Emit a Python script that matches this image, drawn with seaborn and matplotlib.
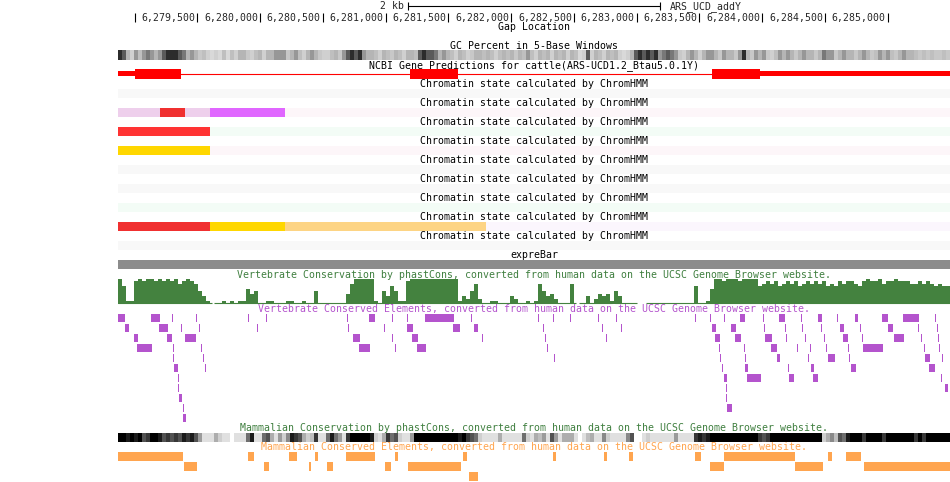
import numpy as np
import matplotlib
matplotlib.use("Agg")
import matplotlib.pyplot as plt
from matplotlib.colors import LinearSegmentedColormap
import seaborn as sns

# ---- browser window (cattle, chromosome ARS_UCD_addY) ----
chrom_name = "ARS_UCD_addY"
view_start = 6278868
view_end = 6285496
scale_bar_bp = 2000
ruler_ticks = list(range(6279000, 6285001, 500))

# ---- NCBI gene prediction ----
gene_span = (6278868, 6285496)
gene_utr = [(6278868, 6279003), (6283982, 6285496)]
gene_cds = [(6279003, 6279370), (6281194, 6281576), (6283600, 6283982)]

# ---- ChromHMM tracks (segment bounds + state per segment) ----
state_colors = {
    "TssA": "#ff3333", "TssFlnk": "#f03030", "EnhA": "#ffd700", "EnhWk": "#fdd484",
    "TssBiv": "#e066ff", "BivFlnk": "#eecfec", "Quies": "#f8f8f8",
    "TxWk": "#f3fcf6", "ReprPCWk": "#fdf6f9", "ZNF": "#fbf6fd",
}
chrom_bounds = [
    [view_start, view_end],
    [view_start, 6279200, 6279400, 6279600, 6280200, view_end],
    [view_start, 6279600, view_end],
    [view_start, 6279600, view_end],
    [view_start, view_end],
    [view_start, view_end],
    [view_start, view_end],
    [view_start, 6279600, 6280200, 6281800, view_end],
    [view_start, view_end],
]
chrom_states = [
    ["Quies"],
    ["BivFlnk", "TssFlnk", "BivFlnk", "TssBiv", "ReprPCWk"],
    ["TssA", "TxWk"],
    ["EnhA", "ReprPCWk"],
    ["Quies"],
    ["Quies"],
    ["TxWk"],
    ["TssFlnk", "EnhA", "EnhWk", "ZNF"],
    ["Quies"],
]

expre_bar = (view_start, view_end)

# ---- GC percent, 32 bp bins, darkness 0-10 ----
gc_dark = [
    9, 8, 5, 2, 6, 4, 6, 7, 6, 5, 6, 8, 9, 9, 9, 8, 7, 5, 6, 5,
    3, 4, 2, 1, 2, 1, 4, 1, 4, 2, 5, 5, 3, 2, 4, 5, 2, 5, 5, 6,
    6, 6, 3, 5, 6, 4, 2, 5, 6, 5, 3, 2, 2, 4, 5, 3, 6, 8, 9, 8,
    9, 6, 5, 5, 4, 2, 5, 4, 3, 5, 4, 2, 5, 5, 4, 8, 9, 8, 8, 7,
    5, 6, 5, 4, 2, 5, 4, 2, 3, 5, 5, 4, 5, 4, 2, 4, 5, 4, 5, 3,
    5, 4, 6, 4, 2, 5, 4, 5, 2, 5, 4, 5, 2, 5, 4, 1, 2, 8, 2, 5,
    4, 2, 5, 4, 5, 2, 1, 2, 5, 8, 9, 8, 9, 8, 9, 6, 7, 8, 7, 6,
    3, 2, 5, 6, 5, 2, 5, 6, 6, 5, 3, 6, 5, 5, 3, 6, 9, 5, 3, 6,
    5, 6, 3, 2, 4, 6, 5, 6, 5, 3, 5, 6, 5, 5, 3, 5, 7, 6, 6, 3,
    5, 6, 5, 5, 3, 5, 6, 5, 3, 4, 6, 5, 6, 4, 3, 5, 6, 5, 5, 4,
    3, 4, 3, 4, 3, 3, 4, 3,
]

# ---- vertebrate phastCons, 32 bp bins, score in tenths ----
vert_cons = [
    10, 7, 1, 1, 9, 10, 9, 10, 10, 9, 10, 9, 10, 9, 10, 8, 9, 10, 9, 8,
    5, 3, 1, 0, 0, 0, 1, 0, 1, 0, 1, 1, 6, 4, 5, 0, 0, 1, 1, 0,
    0, 0, 1, 1, 0, 0, 1, 0, 0, 5, 0, 0, 0, 0, 0, 0, 0, 4, 8, 10,
    10, 10, 10, 10, 1, 0, 5, 3, 7, 5, 1, 1, 9, 10, 10, 10, 10, 10, 10, 10,
    10, 10, 10, 10, 10, 1, 3, 2, 5, 8, 2, 0, 0, 1, 1, 0, 0, 0, 3, 2,
    0, 0, 1, 0, 1, 8, 5, 3, 4, 2, 0, 0, 0, 8, 0, 0, 0, 3, 0, 2,
    4, 3, 4, 1, 5, 3, 0, 0, 0, 0, 0, 0, 0, 0, 0, 0, 0, 0, 0, 0,
    0, 0, 0, 0, 7, 0, 0, 1, 6, 10, 10, 9, 10, 10, 10, 9, 10, 10, 10, 10,
    7, 8, 9, 8, 9, 7, 8, 9, 8, 9, 7, 8, 9, 8, 9, 8, 9, 7, 8, 7,
    9, 8, 9, 9, 8, 7, 9, 10, 9, 9, 10, 8, 9, 9, 10, 9, 9, 9, 8, 8,
    9, 8, 9, 8, 7, 8, 7, 7,
]
cons_gaps = [(6279617, 6279633), (6282516, 6282540), (6282803, 6282827), (6283002, 6283074)]

# ---- vertebrate conserved elements, one list per packed row ----
vert_elements = [
    [(6278868, 6278924), (6279131, 6279203), (6279298, 6279306), (6279489, 6279497),
     (6279904, 6279912), (6280047, 6280055), (6280692, 6280700), (6280868, 6280915),
     (6281051, 6281059), (6281170, 6281178), (6281314, 6281545), (6281680, 6281688),
     (6282214, 6282222), (6282333, 6282341), (6282469, 6282477), (6282692, 6282700),
     (6282835, 6282843), (6283464, 6283472), (6283584, 6283592), (6283695, 6283703),
     (6283823, 6283863), (6284006, 6284014), (6284133, 6284181), (6284309, 6284317),
     (6284444, 6284476), (6284596, 6284604), (6284739, 6284763), (6284954, 6285002),
     (6285121, 6285249), (6285376, 6285384)],
    [(6278924, 6278956), (6279195, 6279266), (6279370, 6279378), (6279513, 6279521),
     (6279975, 6279983), (6280700, 6280708), (6280987, 6280995), (6281170, 6281218),
     (6281537, 6281592), (6281704, 6281736), (6282254, 6282262), (6282724, 6282732),
     (6282875, 6282883), (6283600, 6283632), (6283751, 6283791), (6284014, 6284022),
     (6284181, 6284189), (6284317, 6284325), (6284468, 6284476), (6284619, 6284651),
     (6284779, 6284787), (6285002, 6285042), (6285241, 6285249), (6285392, 6285400)],
    [(6278995, 6279027), (6279258, 6279298), (6279402, 6279489), (6280740, 6280796),
     (6281051, 6281059), (6281210, 6281258), (6281768, 6281776), (6282270, 6282278),
     (6282755, 6282763), (6283624, 6283664), (6283783, 6283831), (6284022, 6284078),
     (6284189, 6284197), (6284341, 6284349), (6284492, 6284500), (6284643, 6284683),
     (6284795, 6284803), (6285050, 6285129), (6285265, 6285273), (6285400, 6285408)],
    [(6279019, 6279139), (6279306, 6279314), (6279529, 6279537), (6280788, 6280875),
     (6281075, 6281083), (6281250, 6281321), (6282285, 6282293), (6283656, 6283664),
     (6283855, 6283863), (6284070, 6284118), (6284277, 6284285), (6284380, 6284388),
     (6284508, 6284516), (6284683, 6284691), (6284803, 6284962), (6285289, 6285297),
     (6285408, 6285416)],
    [(6279306, 6279314), (6279545, 6279553), (6282341, 6282349), (6283664, 6283672),
     (6283863, 6283871), (6284118, 6284141), (6284364, 6284372), (6284524, 6284580),
     (6284691, 6284699), (6285297, 6285336), (6285432, 6285440)],
    [(6279314, 6279346), (6279561, 6279569), (6283679, 6283687), (6283863, 6283887),
     (6284205, 6284213), (6284388, 6284412), (6284707, 6284747), (6285328, 6285376)],
    [(6279346, 6279354), (6283695, 6283719), (6283879, 6283990), (6284213, 6284253),
     (6284404, 6284444), (6285424, 6285432)],
    [(6279346, 6279354), (6283711, 6283719), (6285456, 6285480)],
    [(6279354, 6279378), (6283711, 6283719)],
    [(6279386, 6279394), (6283719, 6283759)],
    [(6279386, 6279410)],
]

# ---- mammalian phastCons, 32 bp bins, darkness 0-10 (nan = no data) ----
nan = np.nan
mamm_cons = [
    10, 10, 9, 10, 9, 10, 7, 8, 10, 10, 9, 7, 8, 7, 8, 7, 9, 8, 9, 7,
    4, 0, 0, 0, 3, 1, 0, 0, nan, 0, 0, 0, 6, 9, 0, 0, 6, 7, 3, 0,
    4, 1, 5, 9, 8, 7, 3, 1, 2, 8, 0, 0, 6, 9, 6, 4, 0, 8, 10, 10,
    10, 10, 10, 9, 1, 0, 3, 8, 6, 7, 1, 0, 0, 4, 10, 10, 10, 10, 10, 10,
    10, 10, 10, 10, 10, 9, 10, 8, 7, 6, 1, 0, 0, 0, 0, 3, 0, 0, 0, 0,
    0, 6, 1, 0, 3, 2, 4, 0, 7, 4, 0, 3, 3, 3, 0, nan, 0, 2, 3, 0,
    0, 5, 1, 0, 0, 0, 0, 5, 7, nan, nan, 0, 1, 0, 0, 0, 0, 0, 0, 4,
    0, 0, 0, 0, 8, 9, 8, 9, 10, 10, 10, 10, 10, 10, 10, 10, 10, 10, 10, 10,
    8, 7, 8, 10, 10, 10, 10, 10, 10, 10, 10, 10, 10, 10, 10, 10, 1, 3, 5, 2,
    7, 6, 9, 10, 10, 10, 8, 10, 10, 10, 10, 8, 10, 10, 10, 10, 10, 10, 10, 8,
    10, 8, 10, 10, 10, 10, 10, 10,
]

# ---- mammalian conserved elements ----
mamm_elements = [
    [(6278868, 6279386), (6279904, 6279951), (6280230, 6280294), (6280437, 6280461),
     (6280684, 6280915), (6281075, 6281099), (6281616, 6281648), (6282333, 6282357),
     (6282740, 6282764), (6282939, 6282971), (6283464, 6283512), (6283695, 6284261),
     (6284524, 6284556), (6284667, 6284787)],
    [(6279394, 6279497), (6280031, 6280071), (6280389, 6280405), (6280533, 6280581),
     (6280995, 6281043), (6281178, 6281600), (6283584, 6283695), (6284261, 6284484),
     (6284811, 6285496)],
    [(6281664, 6281736)],
]

# colours
red = "#ff0000"
green_txt = "#3f7f3f"
green_bar = "#44823f"
purple = "#b454cd"
orange = "#ffa54f"

sns.set_style("white")
plt.rcParams["font.family"] = ["DejaVu Sans Mono"]
FS = 7.1

W, H = 950, 482
left_px = 118
bpp = (view_end - view_start) / (W - left_px)
mid = (view_start + view_end) / 2

fig = plt.figure(figsize=(W / 100, H / 100), dpi=100)
ax = fig.add_axes([0, 0, 1, 1])
ax.set_xlim(view_start - left_px * bpp, view_end)
ax.set_ylim(H, 0)
ax.set_axis_off()


def track_axes(top, height):
    a = fig.add_axes([left_px / W, 1 - (top + height) / H, (W - left_px) / W, height / H])
    a.set_axis_off()
    return a


def title(y, text, color="black"):
    ax.text(mid, y, text, ha="center", va="baseline", fontsize=FS, color=color)


def bars(spans, top, height, color):
    ax.broken_barh([(s, max(e - s, bpp)) for s, e in spans], (top, height),
                   facecolors=color, linewidth=0, antialiased=False)


# scale bar
sb0, sb1 = mid - scale_bar_bp / 2, mid + scale_bar_bp / 2
ax.hlines(6, sb0, sb1, color="black", lw=0.8)
ax.vlines([sb0, sb1], 1.7, 10, color="black", lw=0.8)
ax.text(sb0 - 4 * bpp, 9.3, "2 kb", ha="right", va="baseline", fontsize=FS)
ax.text(sb1 + 10 * bpp, 9.3, chrom_name, ha="left", va="baseline", fontsize=FS)

# ruler
for t in ruler_ticks:
    ax.vlines(t, 13.3, 21.7, color="black", lw=0.8)
    if (t - view_start) / bpp > 60:
        ax.text(t - 2 * bpp, 20.7, f"{t:,}", ha="right", va="baseline", fontsize=FS)
title(30, "Gap Location")

# GC percent
title(49, "GC Percent in 5-Base Windows")
gc_cmap = LinearSegmentedColormap.from_list(
    "gc", [(0, "#e2e2e2"), (0.5, "#b6b6b6"), (0.8, "#5a5a5a"), (1, "#000000")])
gc_ax = track_axes(50, 10)
sns.heatmap(np.array([gc_dark]) / 10, ax=gc_ax, cmap=gc_cmap, vmin=0, vmax=1,
            cbar=False, xticklabels=False, yticklabels=False)
gc_ax.set_axis_off()

# gene
title(68, "NCBI Gene Predictions for cattle(ARS-UCD1.2_Btau5.0.1Y)")
ax.hlines(74, gene_span[0], gene_span[1], color=red, lw=0.8)
bars(gene_utr, 71.3, 5, red)
bars(gene_cds, 69.3, 9.7, red)

# chromatin states
for i, (bounds, states) in enumerate(zip(chrom_bounds, chrom_states)):
    title(87.3 + 19 * i, "Chromatin state calculated by ChromHMM")
    for s, e, st in zip(bounds[:-1], bounds[1:], states):
        bars([(s, e)], 89 + 19 * i, 9, state_colors[st])

# expression bar
title(258.3, "expreBar")
bars([expre_bar], 260, 9, "#8c8c8c")

# vertebrate conservation
title(277.7, "Vertebrate Conservation by phastCons, converted from human data on the UCSC Genome Browser website.", green_txt)
edges = np.linspace(view_start, view_end, len(vert_cons) + 1)
centers = (edges[:-1] + edges[1:]) / 2
cons_ax = track_axes(279, 24.7)
sns.histplot(x=list(centers), weights=[v / 10 for v in vert_cons], bins=len(vert_cons),
             binrange=(view_start, view_end), element="step",
             fill=True, color=green_bar, alpha=1, linewidth=0, ax=cons_ax)
cons_ax.set_xlim(view_start, view_end)
cons_ax.set_ylim(0, 1)
cons_ax.set_axis_off()
seg_starts = [view_start] + [g[1] for g in cons_gaps]
seg_ends = [g[0] for g in cons_gaps] + [view_end]
ax.hlines([303.2] * len(seg_starts), seg_starts, seg_ends, color=green_bar, lw=0.8)

# vertebrate conserved elements
title(312.3, "Vertebrate Conserved Elements, converted from human data on the UCSC Genome Browser website.", purple)
for r, row in enumerate(vert_elements):
    bars(row, 314 + 10 * r, 8.3, purple)

# mammalian conservation
title(431, "Mammalian Conservation by phastCons, converted from human data on the UCSC Genome Browser website.", green_txt)
mamm_cmap = LinearSegmentedColormap.from_list("mc", [(0, "#e0e0e0"), (0.5, "#8a8a8a"), (1, "#000000")])
mc_ax = track_axes(433.3, 8.7)
sns.heatmap(np.array([mamm_cons], dtype=float) / 10, ax=mc_ax, cmap=mamm_cmap, vmin=0, vmax=1,
            cbar=False, xticklabels=False, yticklabels=False)
mc_ax.set_axis_off()

# mammalian conserved elements
title(450, "Mammalian Conserved Elements, converted from human data on the UCSC Genome Browser website.", orange)
for r, row in enumerate(mamm_elements):
    bars(row, 452 + 10 * r, 8.7, orange)

fig.savefig("out.png", dpi=100, facecolor="white")
